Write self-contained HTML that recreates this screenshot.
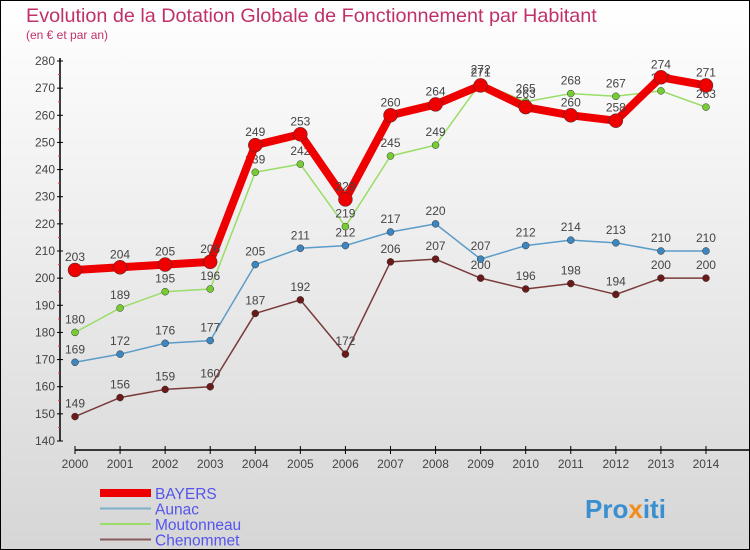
<!DOCTYPE html>
<html><head><meta charset="utf-8"><style>
body{margin:0}
svg{display:block;font-family:"Liberation Sans",sans-serif}
</style></head><body>
<svg id="c" width="750" height="550" xmlns="http://www.w3.org/2000/svg">
<defs><linearGradient id="bg" x1="0" y1="0" x2="0" y2="1"><stop offset="0" stop-color="#ffffff"/><stop offset="1" stop-color="#d6d6d6"/></linearGradient></defs>
<rect x="0.5" y="0.5" width="749" height="549" fill="url(#bg)" stroke="#000"/>
<text x="26" y="22" font-size="19.8" fill="#c0306a">Evolution de la Dotation Globale de Fonctionnement par Habitant</text>
<text x="26" y="39" font-size="12" fill="#c0306a">(en € et par an)</text>
<g id="axes"></g><g id="series"></g><g id="legend"></g>
<text x="585" y="518" font-size="26" font-weight="bold" fill="#3a8fd0">Pro<tspan fill="#f28c1a">x</tspan>iti</text>
</svg>
<script>
const years=[2000,2001,2002,2003,2004,2005,2006,2007,2008,2009,2010,2011,2012,2013,2014];
const yTicks=[140,150,160,170,180,190,200,210,220,230,240,250,260,270,280];
const bayers=[203,204,205,206,249,253,229,260,264,271,263,260,258,274,271];
const aunac=[169,172,176,177,205,211,212,217,220,207,212,214,213,210,210];
const moutonneau=[180,189,195,196,239,242,219,245,249,272,265,268,267,269,263];
const chenommet=[149,156,159,160,187,192,172,206,207,200,196,198,194,200,200];
const NS="http://www.w3.org/2000/svg";
function X(i){return 75+i*45.07;}
function Y(v){return 441-(v-140)*(380/140);}
function mk(tag,attrs,parent){const e=document.createElementNS(NS,tag);for(const k in attrs)e.setAttribute(k,attrs[k]);parent.appendChild(e);return e;}
const ax=document.getElementById('axes');
let l=mk('line',{x1:60,y1:58,x2:60,y2:441,stroke:'#000','stroke-width':1.5},ax);


l=mk('line',{x1:75,y1:450,x2:750,y2:450,stroke:'#000','stroke-width':1.5},ax);


yTicks.forEach((v,i)=>{
 mk('line',{x1:57,y1:Y(v),x2:63,y2:Y(v),stroke:'#000'},ax);
 if(i<yTicks.length-1) mk('line',{x1:58,y1:Y(v+5),x2:60,y2:Y(v+5),stroke:'#f33'},ax);
 const t=mk('text',{x:55,y:Y(v)+4,'font-size':12,fill:'#444','text-anchor':'end'},ax);t.textContent=v;
 
 
});
years.forEach((yr,i)=>{
 mk('line',{x1:X(i),y1:446,x2:X(i),y2:454,stroke:'#000'},ax);
 const t=mk('text',{x:X(i),y:468,'font-size':12,fill:'#444','text-anchor':'middle'},ax);t.textContent=yr;
 
 
});
const sg=document.getElementById('series');
function draw(vals,color,w,r,name,dotColor){
 const g=mk('g',{},sg);
 
 
 mk('polyline',{points:vals.map((v,i)=>X(i)+','+Y(v)).join(' '),fill:'none',stroke:color,'stroke-width':w,'stroke-linejoin':'round'},g);
 vals.forEach((v,i)=>{
  const c=mk('circle',{cx:X(i),cy:Y(v),r:r,fill:dotColor,stroke:'#333','stroke-width':0.5},g);
  
  
  const t=mk('text',{x:X(i),y:Y(v)-9,'font-size':12,fill:'#444','text-anchor':'middle'},g);t.textContent=v;
  
  
 });
}
draw(chenommet,'#7a3a3a',1.5,3.5,'chenommet','#6b1a1a');
draw(aunac,'#5b9cc8',1.5,3.5,'aunac','#3d86c0');
draw(moutonneau,'#99dd66',1.5,3.5,'moutonneau','#77cc33');
draw(bayers,'#ee0000',8,7,'bayers','#ee0000');
const lg=document.getElementById('legend');
[['BAYERS','#ee0000',8],['Aunac','#7ab0cc',2],['Moutonneau','#99dd66',2],['Chenommet','#8b5a5a',2]].forEach((s,i)=>{
 const y=493+i*15.5;
 const g=mk('g',{},lg);
 
 
 mk('line',{x1:100,y1:y,x2:151,y2:y,stroke:s[1],'stroke-width':s[2]},g);
 const t=mk('text',{x:155,y:y+6,'font-size':15.5,fill:'#5555ee'},g);t.textContent=s[0];
});
</script>
</body></html>
